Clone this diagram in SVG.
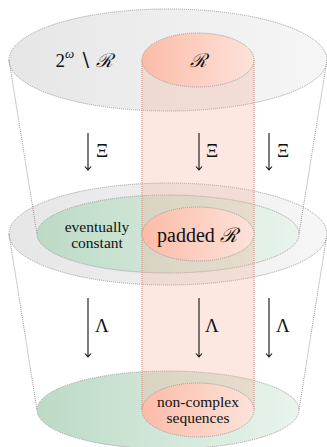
<svg xmlns="http://www.w3.org/2000/svg" width="327" height="447" viewBox="0 0 327 447">
<defs>
<linearGradient id="gGray" x1="0" y1="0" x2="1" y2="0">
<stop offset="0" stop-color="#e6e6e6"/><stop offset="1" stop-color="#f6f6f6"/>
</linearGradient>
<linearGradient id="gRed" x1="0" y1="0" x2="1" y2="0">
<stop offset="0" stop-color="#fcbca8"/><stop offset="1" stop-color="#fde2da"/>
</linearGradient>
<linearGradient id="gGreen" x1="0" y1="0" x2="1" y2="0">
<stop offset="0" stop-color="#bcdac6"/><stop offset="1" stop-color="#e9f4ed"/>
</linearGradient>
</defs>
<style>
.dot{stroke:#9a9a9a;stroke-width:1;stroke-dasharray:1 1;fill:none}
.gray{fill:url(#gGray)}
.red{fill:url(#gRed)}
.green{fill:url(#gGreen)}
.col{fill:#f7a488;fill-opacity:0.25}
.colEdge{stroke:#d08a78;stroke-width:1;stroke-dasharray:1 1;fill:none}
.arr{stroke:#111;stroke-width:1.1;fill:none}
.t{fill:#111;text-anchor:middle}
.lab{font-size:19px}
.sm{font-size:15.5px}
</style>
<g id="level-top">
<ellipse class="gray dot" cx="168" cy="60" rx="159" ry="51"/>
</g>
<g id="level-mid">
<ellipse class="gray dot" cx="168" cy="234" rx="159" ry="51"/>
<ellipse class="green dot" cx="168" cy="234" rx="131" ry="39"/>
</g>
<g id="level-bottom">
<ellipse class="green dot" cx="168" cy="410" rx="131" ry="39"/>
</g>
<g id="frustum">
<line class="dot" x1="9" y1="60" x2="37" y2="234"/>
<line class="dot" x1="327" y1="60" x2="299" y2="234"/>
<line class="dot" x1="9" y1="234" x2="37" y2="410"/>
<line class="dot" x1="327" y1="234" x2="299" y2="410"/>
</g>
<g id="column">
<rect class="col" x="142" y="60" width="112" height="350"/>
<line class="colEdge" x1="142" y1="60" x2="142" y2="410"/>
<line class="colEdge" x1="254" y1="60" x2="254" y2="410"/>
</g>
<g font-family="'Liberation Serif', 'DejaVu Serif', serif">
<g id="R-top">
<ellipse class="red dot" cx="198" cy="60" rx="56" ry="27"/>
<text class="t lab" x="198" y="67" font-style="italic">ℛ</text>
</g>
<g id="complement">
<text class="t lab" x="84" y="67">2<tspan font-size="13" dy="-9" font-style="italic">ω</tspan><tspan dy="9"> ∖ </tspan><tspan font-style="italic">ℛ</tspan></text>
</g>
<g id="eventually-constant">
<text class="t sm" x="97" y="232">eventually</text>
<text class="t sm" x="97" y="248">constant</text>
</g>
<g id="padded-R">
<ellipse class="red dot" cx="198" cy="234" rx="56" ry="27"/>
<text class="t" x="197" y="242" font-size="20">padded <tspan font-style="italic">ℛ</tspan></text>
</g>
<g id="non-complex">
<ellipse class="red dot" cx="198" cy="410" rx="56" ry="27"/>
<text class="t sm" x="198" y="407">non-complex</text>
<text class="t sm" x="198" y="423">sequences</text>
</g>
<g id="connectors">
<path class="arr" d="M88 133V170M85 166.5L88 170L91 166.5"/>
<path class="arr" d="M199 133V170M196 166.5L199 170L202 166.5"/>
<path class="arr" d="M269 133V170M266 166.5L269 170L272 166.5"/>
<path class="arr" d="M88 298V357M85 353.5L88 357L91 353.5"/>
<path class="arr" d="M199 298V357M196 353.5L199 357L202 353.5"/>
<path class="arr" d="M269 298V357M266 353.5L269 357L272 353.5"/>
<text class="t lab" x="102" y="157">Ξ</text>
<text class="t lab" x="212" y="157">Ξ</text>
<text class="t lab" x="283" y="157">Ξ</text>
<text class="t lab" x="102" y="332">Λ</text>
<text class="t lab" x="212" y="332">Λ</text>
<text class="t lab" x="283" y="332">Λ</text>
</g>
</g>
</svg>
